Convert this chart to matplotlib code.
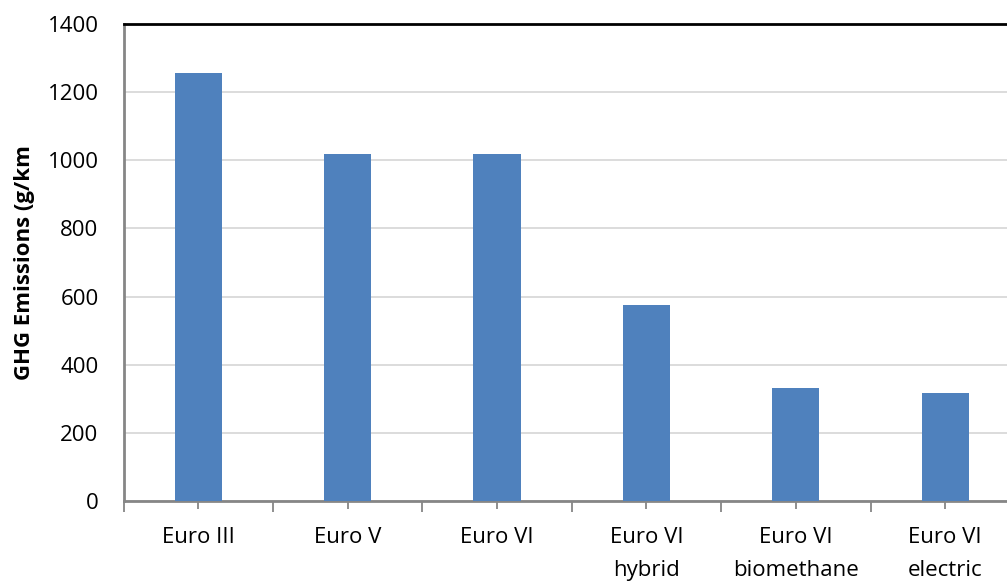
import numpy as np
from matplotlib import pyplot as plt

# data
categories = ["Euro III", "Euro V", "Euro VI", "Euro VI\nhybrid",
              "Euro VI\nbiomethane", "Euro VI\nelectric"]
emissions = [1256, 1017, 1017, 575, 332, 318]

plt.rcParams['font.family'] = ['Open Sans', 'DejaVu Sans']

fig = plt.figure(figsize=(10.07, 5.81), dpi=100)
W, H = 1007.0, 581.0
ax = fig.add_axes([123.5 / W, 80 / H, 896.4 / W, 477 / H])

x = np.arange(len(categories))
ax.bar(x, emissions, width=0.315, color="#4f81bd", zorder=3)

ax.set_xlim(-0.5, 5.5)
ax.set_ylim(0, 1400)
ax.set_yticks(np.arange(0, 1401, 200))
ax.yaxis.grid(True, color="#d9d9d9", linewidth=1.3, zorder=0)
ax.tick_params(axis="y", length=0, labelsize=16, pad=18)

ax.set_xticks(x)
ax.set_xticklabels(categories, fontsize=16, linespacing=1.75, va="top")
ax.set_xticks(np.arange(-0.5, 5.6, 1), minor=True)
ax.tick_params(axis="x", which="major", direction="inout", length=11,
               width=1.3, color="#868686", pad=13)
ax.tick_params(axis="x", which="minor", direction="out", length=8,
               width=1.3, color="#868686")

for s in ["left", "bottom"]:
    ax.spines[s].set_color("#868686")
    ax.spines[s].set_linewidth(2)
ax.spines["top"].set_color("black")
ax.spines["top"].set_linewidth(2)
ax.spines["right"].set_visible(False)

ax.set_ylabel("GHG Emissions (g/km", fontsize=16, fontweight="bold")
ax.yaxis.set_label_coords(-88 / 896.4, 0.5)

plt.savefig("out.png", dpi=100)
